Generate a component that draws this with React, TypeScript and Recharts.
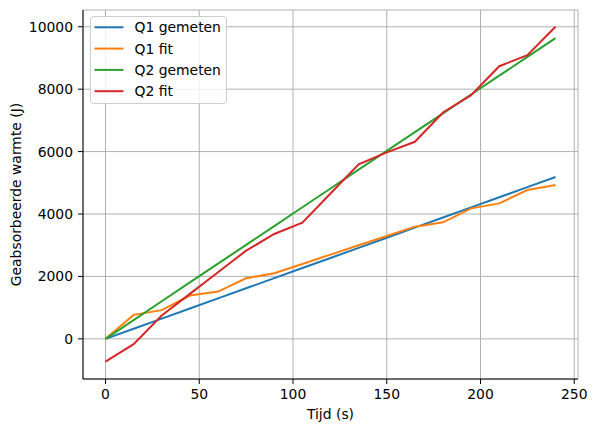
import React from 'react';
import { LineChart, Line, XAxis, YAxis, CartesianGrid, Legend } from 'recharts';

const tijd = [0, 15, 30, 45, 60, 75, 90, 105, 120, 135, 150, 165, 180, 195, 210, 225, 240];
const q1Gemeten = [0, 324, 648, 972, 1296, 1620, 1944, 2268, 2592, 2916, 3240, 3564, 3888, 4212, 4536, 4860, 5184];
const q1Fit = [0, 768, 920, 1386, 1514, 1941, 2101, 2400, 2700, 2997, 3296, 3594, 3733, 4181, 4341, 4768, 4928];
const q2Gemeten = [0, 602, 1205, 1807, 2409, 3011, 3614, 4216, 4818, 5420, 6023, 6625, 7227, 7829, 8432, 9034, 9636];
const q2Fit = [-730, -170, 750, 1442, 2134, 2826, 3360, 3722, 4656, 5590, 5974, 6314, 7254, 7808, 8736, 9088, 10000];

const seriesKeys = ['q1g', 'q1f', 'q2g', 'q2f'];
const seriesNames = ['Q1 gemeten', 'Q1 fit', 'Q2 gemeten', 'Q2 fit'];
const seriesColors = ['#1f77b4', '#ff7f0e', '#2ca02c', '#d62728'];

const xTicks = [0, 50, 100, 150, 200, 250];
const yTicks = [0, 2000, 4000, 6000, 8000, 10000];

const data = tijd.map((t, i) => ({
  t,
  q1g: q1Gemeten[i],
  q1f: q1Fit[i],
  q2g: q2Gemeten[i],
  q2f: q2Fit[i],
}));

const FONT = 'DejaVu Sans, sans-serif';
const FS = 13.9;
const tickStyle = { fill: '#000', fontSize: FS, fontFamily: FONT };
const xDomain: [number, number] = [-12, 252];
const yDomain: [number, number] = [-1287, 10537];

// matplotlib-like legend box, kept in plotting order
const LegendBox = () => (
  <svg width={138} height={90} style={{ display: 'block' }}>
    <rect x={0.5} y={0.5} width={136} height={87} rx={3} fill="rgba(255,255,255,0.8)" stroke="#cccccc" />
    {seriesNames.map((name, i) => {
      const cy = 11.3 + i * 21.3;
      return (
        <g key={name}>
          <line x1={4.5} x2={33.5} y1={cy} y2={cy} stroke={seriesColors[i]} strokeWidth={2} />
          <text x={44.5} y={cy} dy="0.36em" fontSize={FS} fontFamily={FONT} fill="#000">
            {name}
          </text>
        </g>
      );
    })}
  </svg>
);

const YLabel = (props: any) => {
  const vb = props.viewBox || { x: 0, y: 0, width: 0, height: 0 };
  const cx = 20.5;
  const cy = vb.y + vb.height / 2;
  return (
    <text x={cx} y={cy} transform={`rotate(-90 ${cx} ${cy})`} textAnchor="middle" fontSize={FS} fontFamily={FONT} fill="#000">
      Geabsorbeerde warmte (J)
    </text>
  );
};

const XLabel = (props: any) => {
  const vb = props.viewBox || { x: 0, y: 0, width: 0, height: 0 };
  return (
    <text x={vb.x + vb.width / 2} y={419} textAnchor="middle" fontSize={FS} fontFamily={FONT} fill="#000">
      Tijd (s)
    </text>
  );
};

export default function App() {
  return (
    <div style={{ position: 'absolute', left: 0, top: 0, width: 598, height: 432, background: '#fff' }}>
      <LineChart width={598} height={432} data={data} margin={{ top: 10, right: 20, bottom: 0, left: 0 }}>
        <CartesianGrid stroke="#b0b0b0" strokeWidth={1} />
        <XAxis
          dataKey="t"
          type="number"
          domain={xDomain}
          ticks={xTicks}
          allowDataOverflow
          height={53}
          tick={tickStyle}
          tickSize={5}
          tickMargin={5}
          axisLine={{ stroke: '#000', strokeWidth: 1 }}
          tickLine={{ stroke: '#000', strokeWidth: 1 }}
          label={<XLabel />}
        />
        <XAxis
          xAxisId="top"
          orientation="top"
          dataKey="t"
          type="number"
          domain={xDomain}
          allowDataOverflow
          height={0}
          tick={false}
          tickLine={false}
          axisLine={{ stroke: '#000', strokeWidth: 1 }}
        />
        <YAxis
          type="number"
          domain={yDomain}
          ticks={yTicks}
          allowDataOverflow
          width={83}
          tick={tickStyle}
          tickSize={5}
          tickMargin={5}
          axisLine={{ stroke: '#000', strokeWidth: 1 }}
          tickLine={{ stroke: '#000', strokeWidth: 1 }}
          label={<YLabel />}
        />
        <YAxis
          yAxisId="right"
          orientation="right"
          type="number"
          domain={yDomain}
          allowDataOverflow
          width={0}
          tick={false}
          tickLine={false}
          axisLine={{ stroke: '#000', strokeWidth: 1 }}
        />
        <Legend
          layout="vertical"
          align="center"
          verticalAlign="middle"
          wrapperStyle={{ left: 90, top: 16, width: 138, height: 90 }}
          content={<LegendBox />}
        />
        {seriesKeys.map((k, i) => (
          <Line
            key={k}
            type="linear"
            dataKey={k}
            name={seriesNames[i]}
            stroke={seriesColors[i]}
            strokeWidth={2}
            dot={false}
            isAnimationActive={false}
          />
        ))}
      </LineChart>
    </div>
  );
}
